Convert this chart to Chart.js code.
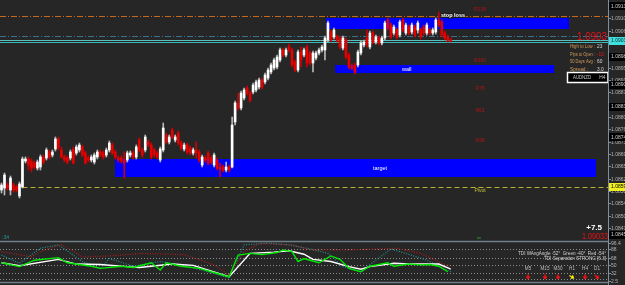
<!DOCTYPE html>
<html>
<head>
<meta charset="utf-8">
<script src="https://cdn.jsdelivr.net/npm/chart.js@4.4.1/dist/chart.umd.min.js"></script>
<style>
  html, body { margin: 0; padding: 0; background: #262626; overflow: hidden; }
  #wrap { position: relative; width: 625px; height: 285px; }
  canvas { position: absolute; left: 0; }
  #priceChart { top: 0; }
  #tdiChart { top: 240px; }
</style>
</head>
<body>
<div id="wrap">
  <canvas id="priceChart" width="625" height="240"></canvas>
  <canvas id="tdiChart" width="625" height="45"></canvas>
</div>
<script>
// AUDNZD H4 candles (oldest first)
const opens = [
  1.08586, 1.08592, 1.08601, 1.08586, 1.08601, 1.08595, 1.08568, 1.08595, 1.08673, 1.08679,
  1.08673, 1.08667, 1.08652, 1.08655, 1.08685, 1.08682, 1.08700, 1.08691, 1.08709, 1.08739,
  1.08706, 1.08685, 1.08682, 1.08682, 1.08709, 1.08697, 1.08706, 1.08715, 1.08697, 1.08682,
  1.08676, 1.08670, 1.08685, 1.08700, 1.08697, 1.08691, 1.08706, 1.08721, 1.08700, 1.08682,
  1.08682, 1.08676, 1.08676, 1.08691, 1.08697, 1.08685, 1.08736, 1.08706, 1.08706, 1.08730,
  1.08721, 1.08706, 1.08697, 1.08676, 1.08706, 1.08751, 1.08730, 1.08766, 1.08736, 1.08757,
  1.08727, 1.08709, 1.08721, 1.08712, 1.08697, 1.08706, 1.08700, 1.08661, 1.08682, 1.08697,
  1.08682, 1.08661, 1.08676, 1.08655, 1.08655, 1.08646, 1.08655, 1.08655, 1.08790, 1.08847,
  1.08832, 1.08862, 1.08892, 1.08877, 1.08880, 1.08886, 1.08895, 1.08916, 1.08910, 1.08922,
  1.08940, 1.08952, 1.08955, 1.08976, 1.09006, 1.08991, 1.09015, 1.09006, 1.08970, 1.08946,
  1.09000, 1.08991, 1.09015, 1.08997, 1.08967, 1.08982, 1.08997, 1.09006, 1.09006, 1.09036,
  1.09060, 1.09045, 1.09045, 1.09042, 1.09012, 1.09036, 1.08991, 1.08958, 1.08961, 1.08961,
  1.08997, 1.09021, 1.09042, 1.09015, 1.09057, 1.09030, 1.09042, 1.09027, 1.09042, 1.09096,
  1.09081, 1.09057, 1.09066, 1.09051, 1.09096, 1.09057, 1.09075, 1.09060, 1.09075, 1.09066,
  1.09066, 1.09075, 1.09057, 1.09066, 1.09057, 1.09060, 1.09096, 1.09090, 1.09057, 1.09045,
  1.09036
];
const highs = [
  1.08607, 1.08637, 1.08607, 1.08628, 1.08607, 1.08601, 1.08610, 1.08685, 1.08685, 1.08685,
  1.08679, 1.08673, 1.08676, 1.08691, 1.08691, 1.08712, 1.08706, 1.08706, 1.08745, 1.08745,
  1.08715, 1.08691, 1.08688, 1.08706, 1.08715, 1.08721, 1.08727, 1.08721, 1.08703, 1.08688,
  1.08691, 1.08697, 1.08706, 1.08706, 1.08703, 1.08712, 1.08733, 1.08727, 1.08706, 1.08688,
  1.08688, 1.08700, 1.08703, 1.08703, 1.08703, 1.08721, 1.08742, 1.08712, 1.08751, 1.08736,
  1.08727, 1.08712, 1.08703, 1.08715, 1.08787, 1.08757, 1.08751, 1.08772, 1.08751, 1.08763,
  1.08733, 1.08727, 1.08727, 1.08718, 1.08712, 1.08730, 1.08706, 1.08691, 1.08688, 1.08703,
  1.08688, 1.08697, 1.08682, 1.08667, 1.08661, 1.08670, 1.08661, 1.08805, 1.08853, 1.08877,
  1.08883, 1.08892, 1.08898, 1.08883, 1.08907, 1.08916, 1.08922, 1.08922, 1.08937, 1.08952,
  1.08967, 1.08982, 1.08991, 1.09012, 1.09012, 1.09012, 1.09024, 1.09012, 1.08976, 1.09006,
  1.09015, 1.09012, 1.09021, 1.09003, 1.09003, 1.09003, 1.09012, 1.09021, 1.09048, 1.09093,
  1.09066, 1.09072, 1.09051, 1.09048, 1.09048, 1.09042, 1.08997, 1.08964, 1.08967, 1.09006,
  1.09033, 1.09036, 1.09066, 1.09063, 1.09063, 1.09051, 1.09048, 1.09048, 1.09093, 1.09102,
  1.09087, 1.09081, 1.09072, 1.09096, 1.09102, 1.09087, 1.09081, 1.09087, 1.09081, 1.09093,
  1.09072, 1.09081, 1.09087, 1.09072, 1.09072, 1.09102, 1.09120, 1.09096, 1.09063, 1.09051,
  1.09042
];
const lows = [
  1.08577, 1.08571, 1.08586, 1.08571, 1.08580, 1.08580, 1.08562, 1.08592, 1.08667, 1.08646,
  1.08640, 1.08649, 1.08646, 1.08646, 1.08664, 1.08676, 1.08679, 1.08685, 1.08703, 1.08706,
  1.08682, 1.08670, 1.08664, 1.08676, 1.08664, 1.08691, 1.08700, 1.08685, 1.08664, 1.08670,
  1.08670, 1.08664, 1.08679, 1.08685, 1.08679, 1.08685, 1.08700, 1.08691, 1.08679, 1.08670,
  1.08667, 1.08622, 1.08670, 1.08685, 1.08679, 1.08679, 1.08700, 1.08685, 1.08700, 1.08715,
  1.08679, 1.08685, 1.08679, 1.08670, 1.08700, 1.08724, 1.08724, 1.08739, 1.08730, 1.08721,
  1.08706, 1.08703, 1.08694, 1.08691, 1.08691, 1.08682, 1.08670, 1.08655, 1.08670, 1.08661,
  1.08664, 1.08655, 1.08646, 1.08625, 1.08640, 1.08640, 1.08640, 1.08652, 1.08781, 1.08826,
  1.08826, 1.08856, 1.08871, 1.08850, 1.08874, 1.08880, 1.08889, 1.08889, 1.08904, 1.08916,
  1.08934, 1.08946, 1.08949, 1.08970, 1.08985, 1.08985, 1.09000, 1.08955, 1.08940, 1.08940,
  1.08955, 1.08985, 1.08955, 1.08961, 1.08940, 1.08976, 1.08991, 1.09000, 1.08976, 1.09030,
  1.09030, 1.09039, 1.09030, 1.09009, 1.09006, 1.08979, 1.08949, 1.08946, 1.08934, 1.08955,
  1.08991, 1.09015, 1.09015, 1.09009, 1.09024, 1.09024, 1.09021, 1.09021, 1.09036, 1.09066,
  1.09039, 1.09051, 1.09039, 1.09045, 1.09060, 1.09051, 1.09051, 1.09054, 1.09045, 1.09057,
  1.09039, 1.09051, 1.09051, 1.09051, 1.09051, 1.09054, 1.09075, 1.09045, 1.09036, 1.09030,
  1.09030
];
const closes = [
  1.08601, 1.08631, 1.08592, 1.08622, 1.08586, 1.08586, 1.08604, 1.08679, 1.08679, 1.08661,
  1.08652, 1.08655, 1.08670, 1.08685, 1.08670, 1.08706, 1.08685, 1.08700, 1.08739, 1.08712,
  1.08685, 1.08676, 1.08670, 1.08700, 1.08667, 1.08715, 1.08721, 1.08691, 1.08667, 1.08676,
  1.08685, 1.08691, 1.08700, 1.08691, 1.08685, 1.08706, 1.08727, 1.08697, 1.08685, 1.08676,
  1.08673, 1.08667, 1.08697, 1.08697, 1.08685, 1.08715, 1.08706, 1.08691, 1.08745, 1.08721,
  1.08685, 1.08691, 1.08685, 1.08709, 1.08772, 1.08730, 1.08745, 1.08745, 1.08745, 1.08727,
  1.08712, 1.08721, 1.08700, 1.08697, 1.08706, 1.08697, 1.08676, 1.08685, 1.08676, 1.08667,
  1.08670, 1.08691, 1.08652, 1.08649, 1.08646, 1.08655, 1.08646, 1.08781, 1.08847, 1.08832,
  1.08877, 1.08886, 1.08877, 1.08856, 1.08901, 1.08910, 1.08916, 1.08895, 1.08931, 1.08946,
  1.08961, 1.08976, 1.08985, 1.09006, 1.08991, 1.09006, 1.09006, 1.08961, 1.08946, 1.09000,
  1.08976, 1.09006, 1.08967, 1.08967, 1.08997, 1.08997, 1.09006, 1.09015, 1.09042, 1.09087,
  1.09036, 1.09066, 1.09036, 1.09015, 1.09042, 1.08985, 1.08955, 1.08952, 1.08940, 1.09000,
  1.09027, 1.09030, 1.09024, 1.09057, 1.09030, 1.09045, 1.09027, 1.09042, 1.09087, 1.09072,
  1.09045, 1.09075, 1.09045, 1.09090, 1.09066, 1.09081, 1.09057, 1.09081, 1.09051, 1.09087,
  1.09045, 1.09057, 1.09081, 1.09057, 1.09066, 1.09096, 1.09081, 1.09051, 1.09042, 1.09036,
  1.09033
];
const totalBars = 203; // chart shift leaves empty bars on the right

const priceTicks = [
  1.09138, 1.09101, 1.09064, 1.09027, 1.08990, 1.08953, 1.08916, 1.08879, 1.08842, 1.08805,
  1.08768, 1.08731, 1.08694, 1.08657, 1.08620, 1.08583, 1.08546, 1.08509, 1.08472
];

// rectangles drawn on the chart (bar index from/to, price high/low)
const zoneNames = ['stop loss', 'wall', 'target'];
const zoneFrom = [108.35, 111.4, 37.9];
const zoneTo = [189.5, 184.5, 198.5];
const zoneHigh = [1.09102, 1.08961, 1.08679];
const zoneLow = [1.09069, 1.08937, 1.08625];

// fibo / pivot levels
const levelNames = ['R138', 'R100', 'R78', 'R61', 'R38', 'Pivot'];
const levelPrices = [1.09137, 1.08985, 1.08901, 1.08836, 1.08744, 1.08595];
const pivotStartBar = 7;
const extraAxisMark = 1.08452;

const orangeLine = 1.09108;
const blueLine = 1.09048;
const askPrice = 1.09036;
const bidPrice = 1.09033;
const bidLine = 1.09030;

const infoLabels = ['High to Low :', 'Pips to Open :', '50 Days Avg :', 'Spread :'];
const infoValues = ['23', '-10', '60', '3.0'];

// TDI sub-window (bar index, value)
const tdiGreenIdx = [0, 6, 11, 19, 22, 30, 33, 40, 44, 50, 53, 55, 60, 66, 72, 76, 79, 83, 87, 92, 94, 97, 99, 101, 103, 106, 110, 113, 116, 120, 123, 129, 131, 136, 140, 143, 146, 149];
const tdiGreen = [56, 47, 62, 68, 56, 48, 43, 48, 45, 56, 39, 56, 48, 43, 31, 23, 74, 78, 75, 80, 86, 82, 59, 66, 62, 56, 72, 64, 43, 35, 48, 56, 48, 53, 51, 52, 48, 35];
const tdiWhiteIdx = [0, 6, 19, 25, 33, 42, 46, 57, 64, 76, 83, 91, 96, 101, 104, 110, 116, 120, 123, 131, 136, 146, 150];
const tdiWhite = [56, 49, 64, 53, 52, 47, 45, 53, 50, 23.5, 78, 81, 84, 76, 64, 59, 47, 41, 47, 55, 53, 53, 41];
const tdiRedIdx = [0, 10, 13, 20, 27, 36, 47, 61, 71, 76, 81, 86, 97, 103, 114, 125, 132, 140, 147, 150];
const tdiRed = [82, 70, 82, 99, 70, 72, 78, 75, 51, 27, 82, 101, 98, 86, 86, 88, 90, 78, 55, 47];
const tdiTealIdx = [0, 6, 13, 19, 27, 33, 36, 44, 53, 62, 71, 76, 81, 89, 96, 102, 109, 114, 120, 125, 130, 135, 142, 150];
const tdiTeal = [74, 55, 90, 98, 59, 43, 66, 48, 59, 48, 31, 20, 98, 102, 98, 90, 78, 47, 35, 62, 88, 78, 62, 35];
const tdiLevels = [88, 68, 50, 32, 18];
const tdiAxisLabels = ['96.4', '88', '68', '50', '32', '2.5'];
const tdiAxisValues = [102, 88, 68, 50, 32, 14];

const tfLabels = ['M5', 'M15', 'M30', 'H1', 'H4', 'D1'];
const tfArrows = ['down', 'down', 'down', 'side', 'down', 'diag'];

const FONT = '"Liberation Sans", Arial, sans-serif';
const AXIS_COLOR = '#7f909c';

const barLabels = Array.from({ length: totalBars }, (_, i) => i);
const isBull = opens.map((o, i) => closes[i] >= o);

function hLine(ctx, y, x0, x1, color, dash, width) {
  ctx.save();
  ctx.strokeStyle = color;
  ctx.lineWidth = width || 1;
  ctx.setLineDash(dash || []);
  ctx.beginPath();
  const yy = Math.round(y) + 0.5;
  ctx.moveTo(x0, yy);
  ctx.lineTo(x1, yy);
  ctx.stroke();
  ctx.restore();
}

function axisBox(ctx, y, left, text, bg, fg) {
  ctx.fillStyle = bg;
  ctx.fillRect(left + 1, Math.round(y) - 4, 17, 8);
  ctx.fillStyle = fg;
  ctx.font = '5px ' + FONT;
  ctx.textAlign = 'left';
  ctx.textBaseline = 'middle';
  ctx.fillText(text, left + 3, y);
}

function arrow(ctx, cx, cy, kind, color) {
  ctx.save();
  ctx.translate(cx, cy);
  if (kind === 'side') ctx.rotate(-Math.PI / 3);
  if (kind === 'diag') ctx.rotate(-Math.PI / 4);
  ctx.fillStyle = color;
  ctx.fillRect(-0.6, -3, 1.2, 3);
  ctx.beginPath();
  ctx.moveTo(-2.5, -0.5);
  ctx.lineTo(2.5, -0.5);
  ctx.lineTo(0, 2.8);
  ctx.closePath();
  ctx.fill();
  ctx.restore();
}

const pricePanel = {
  id: 'pricePanel',
  beforeDatasetsDraw(chart) {
    const { ctx, chartArea: a, scales: { x, y } } = chart;
    ctx.save();
    ctx.fillStyle = '#0000ff';
    zoneNames.forEach((name, i) => {
      const left = x.getPixelForValue(zoneFrom[i]);
      const right = x.getPixelForValue(zoneTo[i]);
      const top = y.getPixelForValue(zoneHigh[i]);
      const bottom = y.getPixelForValue(zoneLow[i]);
      ctx.fillRect(left, top, right - left, bottom - top);
    });
    hLine(ctx, y.getPixelForValue(orangeLine), a.left, a.right, '#c4691c', [6, 2, 1, 2]);
    hLine(ctx, y.getPixelForValue(blueLine), a.left, a.right, '#3b6f8e', [6, 2, 1, 2]);
    hLine(ctx, y.getPixelForValue(askPrice), a.left, a.right, '#4fc4c4');
    hLine(ctx, y.getPixelForValue(askPrice), a.left, a.right, '#c48a8a', [1, 9]);
    hLine(ctx, y.getPixelForValue(bidLine), a.left, a.right, '#3bb8b8');
    const pivot = levelPrices[levelNames.indexOf('Pivot')];
    hLine(ctx, y.getPixelForValue(pivot), x.getPixelForValue(pivotStartBar), a.right, '#b4b42e', [5, 3]);
    ctx.restore();
  },
  afterDatasetsDraw(chart) {
    const { ctx, chartArea: a, scales: { x, y } } = chart;
    ctx.save();
    ctx.textBaseline = 'middle';

    // rectangle captions
    ctx.font = 'bold 5.5px ' + FONT;
    ctx.textAlign = 'center';
    ctx.lineWidth = 2;
    ctx.strokeStyle = '#1a1a1a';
    ctx.strokeText(zoneNames[0], 453, 15);
    ctx.fillStyle = '#ffffff';
    ctx.fillText(zoneNames[0], 453, 15);
    ctx.font = '5.5px ' + FONT;
    ctx.textAlign = 'left';
    ctx.fillText(zoneNames[1], 402, y.getPixelForValue((zoneHigh[1] + zoneLow[1]) / 2));
    ctx.fillText(zoneNames[2], 373, y.getPixelForValue((zoneHigh[2] + zoneLow[2]) / 2));

    // level captions
    ctx.font = '5px ' + FONT;
    ctx.textAlign = 'center';
    levelNames.forEach((name, i) => {
      ctx.fillStyle = name === 'Pivot' ? '#c2c232' : '#b01414';
      ctx.fillText(name, 480, y.getPixelForValue(levelPrices[i]) + 3.5);
    });

    // big price
    ctx.font = '10.5px ' + FONT;
    ctx.textAlign = 'right';
    ctx.textBaseline = 'alphabetic';
    ctx.fillStyle = '#e8101a';
    ctx.fillText(bidPrice.toFixed(4), a.right - 1, 39.5, 30);

    // info panel
    ctx.font = '4.8px ' + FONT;
    ctx.textBaseline = 'middle';
    infoLabels.forEach((lab, i) => {
      const yy = 47 + i * 7.4;
      ctx.textAlign = 'left';
      ctx.fillStyle = '#d29a5a';
      ctx.fillText(lab, a.right - 38, yy, 25);
      ctx.fillStyle = infoValues[i].startsWith('-') ? '#e01818' : '#d8d8d8';
      ctx.fillText(infoValues[i], a.right - 11, yy);
    });
    ctx.fillStyle = '#000000';
    ctx.fillRect(a.right - 41, 72, 42, 11);
    ctx.strokeStyle = '#ffffff';
    ctx.lineWidth = 1.5;
    ctx.strokeRect(a.right - 40.5, 72.5, 40.5, 10);
    ctx.fillStyle = '#cfcfcf';
    ctx.fillText('AUDNZD', a.right - 35, 78, 18);
    ctx.textAlign = 'right';
    ctx.fillText('H4', a.right - 2.5, 78);

    // bottom corner readout
    ctx.textBaseline = 'alphabetic';
    ctx.font = 'bold 8px ' + FONT;
    ctx.fillStyle = '#ffffff';
    ctx.fillText('+7.5', a.right - 6, 230);
    ctx.font = '9px ' + FONT;
    ctx.fillStyle = '#e8101a';
    ctx.fillText(bidPrice.toFixed(5), a.right, 238.5, 26);

    ctx.textAlign = 'left';
    ctx.font = '5px ' + FONT;
    ctx.fillStyle = '#2e9a9a';
    ctx.fillText(':34', 2, 238.5);
    ctx.fillStyle = '#1fa01f';
    ctx.fillRect(477, 237.5, 4, 1);
    ctx.restore();
  },
  afterDraw(chart) {
    const { ctx, chartArea: a, scales: { y } } = chart;
    ctx.save();
    ctx.strokeStyle = AXIS_COLOR;
    ctx.lineWidth = 1;
    ctx.beginPath();
    ctx.moveTo(a.right + 0.5, 0);
    ctx.lineTo(a.right + 0.5, chart.height);
    ctx.stroke();
    ctx.font = '5px ' + FONT;
    ctx.textAlign = 'left';
    ctx.textBaseline = 'middle';
    priceTicks.forEach(v => {
      const py = Math.round(y.getPixelForValue(v)) + 0.5;
      ctx.beginPath();
      ctx.moveTo(a.right, py);
      ctx.lineTo(a.right + 3, py);
      ctx.stroke();
      ctx.fillStyle = '#b4b4b4';
      ctx.fillText(v.toFixed(5), a.right + 3, py);
    });
    levelNames.forEach((name, i) => {
      const py = y.getPixelForValue(levelPrices[i]);
      if (name === 'Pivot') axisBox(ctx, py, a.right, levelPrices[i].toFixed(5), '#f0f020', '#000000');
      else axisBox(ctx, py, a.right, levelPrices[i].toFixed(5), '#000000', '#d0d0d0');
    });
    axisBox(ctx, y.getPixelForValue(extraAxisMark), a.right, extraAxisMark.toFixed(5), '#000000', '#d0d0d0');
    axisBox(ctx, y.getPixelForValue(bidPrice), a.right, bidPrice.toFixed(5), '#3fe0e0', '#0a2a2a');
    ctx.restore();
  }
};

new Chart(document.getElementById('priceChart').getContext('2d'), {
  type: 'bar',
  data: {
    labels: barLabels,
    datasets: [
      {
        data: opens.map((o, i) => [o, closes[i]]),
        backgroundColor: isBull.map(b => (b ? '#ffffff' : '#e60000')),
        barThickness: 2,
        minBarLength: 1,
        grouped: false,
        borderWidth: 0
      },
      {
        data: lows.map((l, i) => [l, highs[i]]),
        backgroundColor: isBull.map(b => (b ? '#b8b8b8' : '#cc0000')),
        barThickness: 1,
        grouped: false,
        borderWidth: 0
      }
    ]
  },
  options: {
    responsive: false,
    animation: false,
    layout: { padding: { top: 0, right: 17, bottom: 0, left: 0 } },
    plugins: { legend: { display: false }, tooltip: { enabled: false } },
    scales: {
      x: { display: false },
      y: { display: false, min: 1.08436, max: 1.09156, beginAtZero: false }
    }
  },
  plugins: [pricePanel]
});

const tdiPanel = {
  id: 'tdiPanel',
  beforeDatasetsDraw(chart) {
    const { ctx, chartArea: a, scales: { y } } = chart;
    tdiLevels.forEach(v => hLine(ctx, y.getPixelForValue(v), a.left, a.right, '#8c8c8c', [1, 2]));
  },
  afterDraw(chart) {
    const { ctx, chartArea: a, scales: { y } } = chart;
    ctx.save();
    hLine(ctx, a.top - 0.5, 0, a.right, '#6f8089', [], 1.5);
    hLine(ctx, a.bottom - 0.5, 0, a.right, '#6f8089', [], 1.5);
    ctx.strokeStyle = AXIS_COLOR;
    ctx.beginPath();
    ctx.moveTo(a.right + 0.5, 0);
    ctx.lineTo(a.right + 0.5, chart.height);
    ctx.stroke();
    ctx.font = '5px ' + FONT;
    ctx.textAlign = 'left';
    ctx.textBaseline = 'middle';
    ctx.fillStyle = '#b4b4b4';
    tdiAxisValues.forEach((v, i) => {
      const py = Math.round(y.getPixelForValue(v)) + 0.5;
      ctx.beginPath();
      ctx.moveTo(a.right, py);
      ctx.lineTo(a.right + 3, py);
      ctx.stroke();
      ctx.fillText(tdiAxisLabels[i], a.right + 3, py);
    });

    ctx.font = '4.6px ' + FONT;
    ctx.textAlign = 'right';
    ctx.fillStyle = '#d2d2d2';
    ctx.fillText('TDI WAvgAngle -52°  Green -40°  Red -54°', a.right - 2, 13.7);
    ctx.fillText('TDI Separation STRONG [6.3]', a.right - 2, 18.7);

    const tfX = [a.right - 80, a.right - 63, a.right - 50, a.right - 36, a.right - 23, a.right - 11];
    ctx.textAlign = 'center';
    ctx.fillStyle = '#bdbdbd';
    tfLabels.forEach((lab, i) => {
      ctx.fillText(lab, tfX[i], 29);
      arrow(ctx, tfX[i], 37, tfArrows[i], tfArrows[i] === 'side' ? '#ffe600' : '#ff1010');
    });
    ctx.restore();
  }
};

const toPoints = (idx, vals) => idx.map((v, i) => ({ x: v, y: vals[i] }));

new Chart(document.getElementById('tdiChart').getContext('2d'), {
  type: 'line',
  data: {
    datasets: [
      { data: toPoints(tdiGreenIdx, tdiGreen), borderColor: '#00e600', borderWidth: 1.4 },
      { data: toPoints(tdiWhiteIdx, tdiWhite), borderColor: '#ffffff', borderWidth: 1.4 },
      { data: toPoints(tdiRedIdx, tdiRed), borderColor: '#b01c1c', borderWidth: 1.2, borderDash: [1, 1.5] },
      { data: toPoints(tdiTealIdx, tdiTeal), borderColor: '#229494', borderWidth: 1.2, borderDash: [1, 1.5] }
    ]
  },
  options: {
    responsive: false,
    animation: false,
    elements: { point: { radius: 0 }, line: { tension: 0 } },
    layout: { padding: { top: 1, right: 17, bottom: 3, left: 0 } },
    plugins: { legend: { display: false }, tooltip: { enabled: false } },
    scales: {
      x: { type: 'linear', display: false, min: -0.5, max: totalBars - 0.5 },
      y: { display: false, min: 11, max: 107 }
    }
  },
  plugins: [tdiPanel]
});
</script>
</body>
</html>
